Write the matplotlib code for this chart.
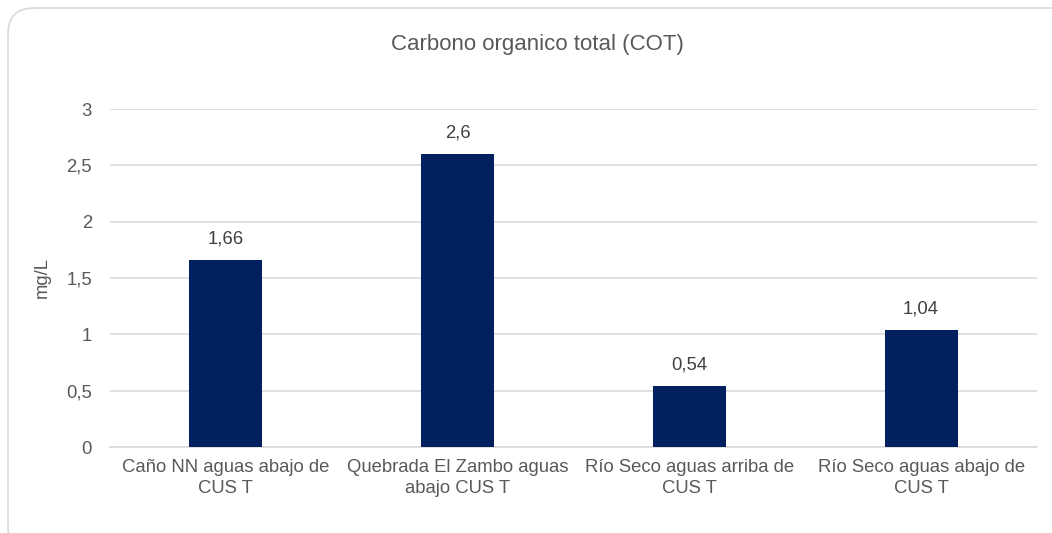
import matplotlib.pyplot as plt
from matplotlib.patches import FancyBboxPatch

categories = ["Caño NN aguas abajo de\nCUS T",
              "Quebrada El Zambo aguas\nabajo CUS T",
              "Río Seco aguas arriba de\nCUS T",
              "Río Seco aguas abajo de\nCUS T"]
values = [1.66, 2.6, 0.54, 1.04]
value_labels = ["1,66", "2,6", "0,54", "1,04"]
yticks = [0, 0.5, 1, 1.5, 2, 2.5, 3]
ytick_labels = ["0", "0,5", "1", "1,5", "2", "2,5", "3"]

plt.rcParams['font.family'] = ['Liberation Sans', 'DejaVu Sans']
text_col = '#595959'
fs = 13.3

fig = plt.figure(figsize=(10.52, 5.33), dpi=100)

# rounded chart border (cut off at right and bottom like the screenshot)
border = FancyBboxPatch((8, -20), 1080, 545, boxstyle="round,pad=0,rounding_size=26",
                        transform=None, facecolor='none', edgecolor='#d9d9d9',
                        linewidth=1.2, zorder=-1)
fig.patches.append(border)

ax = fig.add_axes([110 / 1052, 1 - 447 / 533, 927 / 1052, 338 / 533])
ax.set_facecolor('none')

x = range(len(categories))
bars = ax.bar(x, values, width=0.315, color='#002060', zorder=3)
for b, lab in zip(bars, value_labels):
    ax.annotate(lab, (b.get_x() + b.get_width() / 2, b.get_height()),
                xytext=(0, 9), textcoords='offset points', ha='center', va='bottom',
                fontsize=fs, color='#404040')

ax.set_xlim(-0.5, len(categories) - 0.5)
ax.set_ylim(0, 3)
ax.set_yticks(yticks)
ax.set_yticklabels(ytick_labels)
ax.set_xticks(list(x))
ax.set_xticklabels(categories)
ax.yaxis.grid(True, color='#d9d9d9', linewidth=1.2, zorder=0)
ax.set_axisbelow(True)
for s in ['top', 'right', 'left']:
    ax.spines[s].set_visible(False)
ax.spines['bottom'].set_color('#d9d9d9')
ax.spines['bottom'].set_linewidth(1.2)
ax.tick_params(axis='both', length=0, labelsize=fs, labelcolor=text_col)
ax.tick_params(axis='y', pad=13)
ax.tick_params(axis='x', pad=9)
for t in ax.get_xticklabels():
    t.set_linespacing(1.25)

ax.set_ylabel("mg/L", fontsize=fs, color=text_col, labelpad=11)
fig.text(537 / 1052, 1 - 45 / 533, "Carbono organico total (COT)", ha='center', va='center',
         fontsize=16, color=text_col)

fig.savefig("out.png", dpi=100)
